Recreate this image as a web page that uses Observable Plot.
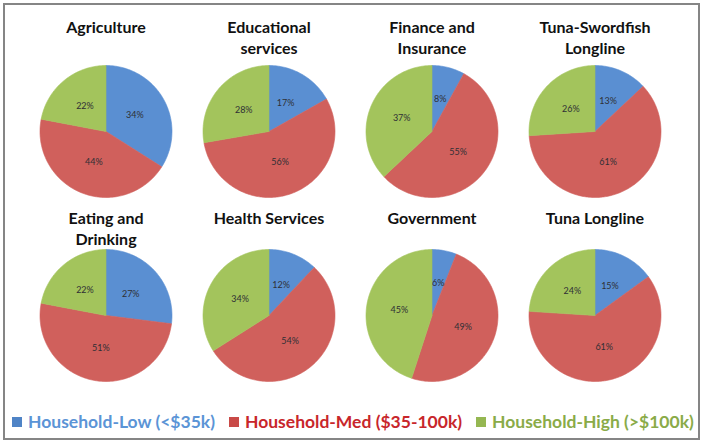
<!DOCTYPE html>
<html>
<head>
<meta charset="utf-8">
<script src="https://cdn.jsdelivr.net/npm/d3@7"></script>
<script src="https://cdn.jsdelivr.net/npm/@observablehq/plot@0.6"></script>
<style>
  html, body { margin: 0; padding: 0; background: #fff; }
  #wrap { position: relative; width: 704px; height: 446px; overflow: hidden; font-family: Lato, "Open Sans", sans-serif; }
  #frame { position: absolute; left: 3px; top: 3px; width: 697px; height: 437px; border: 2px solid #858585; box-sizing: border-box; }
  #chart { position: absolute; left: 0; top: 0; }
  #legend { position: absolute; left: 12px; top: 411px; display: flex; align-items: center; font-weight: 700; font-size: 17.5px; white-space: nowrap; }
  #legend .item { display: flex; align-items: center; margin-right: 14px; }
  #legend .sw { width: 10px; height: 10px; margin-right: 6px; }
</style>
</head>
<body>
<div id="wrap">
  <div id="frame"></div>
  <div id="chart"></div>
  <div id="legend"></div>
</div>
<script>
// ---- data ----
const sectors = ["Agriculture", "Educational\nservices", "Finance and\nInsurance", "Tuna-Swordfish\nLongline",
                 "Eating and\nDrinking", "Health Services", "Government", "Tuna Longline"];
const lowShare  = [34, 17, 8, 13, 27, 12, 6, 15];
const medShare  = [44, 56, 55, 61, 51, 54, 49, 61];
const highShare = [22, 28, 37, 26, 22, 34, 45, 24];
const groups = ["Household-Low (<$35k)", "Household-Med ($35-100k)", "Household-High (>$100k)"];

// ---- styles ----
const pieColors = ["#5a8fd2", "#d0605c", "#a3c45c"];
const swatchColors = ["#4f84c6", "#c94a47", "#95b752"];
const legendText = ["#5b94d6", "#c8262b", "#8aab48"];
const nCols = 4;

// ---- build slices (geometry derived from the values) ----
const slicePts = [];
const labels = [];
const titles = [];
sectors.forEach((name, i) => {
  const col = i % nCols, row = Math.floor(i / nCols);
  const vals = [lowShare[i], medShare[i], highShare[i]];
  const arcs = d3.pie().sort(null)(vals);
  titles.push({col, row, name});
  arcs.forEach((a, g) => {
    const key = i + "-" + g;
    const steps = Math.max(2, Math.ceil((a.endAngle - a.startAngle) / (Math.PI / 180)));
    slicePts.push({col, row, key, group: g, x: 0, y: 0});
    for (let s = 0; s <= steps; ++s) {
      const t = a.startAngle + (a.endAngle - a.startAngle) * s / steps;
      slicePts.push({col, row, key, group: g, x: Math.sin(t), y: Math.cos(t)});
    }
    slicePts.push({col, row, key, group: g, x: 0, y: 0});
    const mid = (a.startAngle + a.endAngle) / 2;
    labels.push({col, row, x: 0.5 * Math.sin(mid), y: 0.5 * Math.cos(mid), text: vals[g] + "%"});
  });
});

const sliceMarks = groups.map((_, g) =>
  Plot.line(slicePts.filter(d => d.group === g), {
    x: "x", y: "y", z: "key", fx: "col", fy: "row",
    fill: pieColors[g], stroke: pieColors[g], strokeWidth: 0.6, curve: "linear"
  })
);

const titleStyle = {fx: "col", fy: "row", text: "name", frameAnchor: "top", lineAnchor: "top", fontSize: 16, fontWeight: 700, lineHeight: 1.35, fill: "#111"};

const chart = Plot.plot({
  width: 704,
  height: 407,
  marginLeft: 24,
  marginRight: 28,
  marginTop: 38,
  marginBottom: 0,
  x: {domain: [-1.235, 1.235], axis: null},
  y: {domain: [-1.394, 1.394], axis: null},
  fx: {domain: [0, 1, 2, 3], padding: 0, axis: null},
  fy: {domain: [0, 1], padding: 0, axis: null},
  style: {fontFamily: "Lato, 'Open Sans', sans-serif", overflow: "visible"},
  marks: [
    ...sliceMarks,
    Plot.text(labels, {x: "x", y: "y", fx: "col", fy: "row", text: "text", fontSize: 9, fill: "#2f2f35"}),
    Plot.text(titles.filter(d => d.row === 0), {...titleStyle, dy: -22}),
    Plot.text(titles.filter(d => d.row === 1), {...titleStyle, dy: -15})
  ]
});
document.getElementById("chart").appendChild(chart);

// ---- legend ----
const legend = document.getElementById("legend");
groups.forEach((g, i) => {
  const item = document.createElement("div");
  item.className = "item";
  const sw = document.createElement("span");
  sw.className = "sw";
  sw.style.background = swatchColors[i];
  const tx = document.createElement("span");
  tx.textContent = g;
  tx.style.color = legendText[i];
  item.appendChild(sw);
  item.appendChild(tx);
  legend.appendChild(item);
});
</script>
</body>
</html>
